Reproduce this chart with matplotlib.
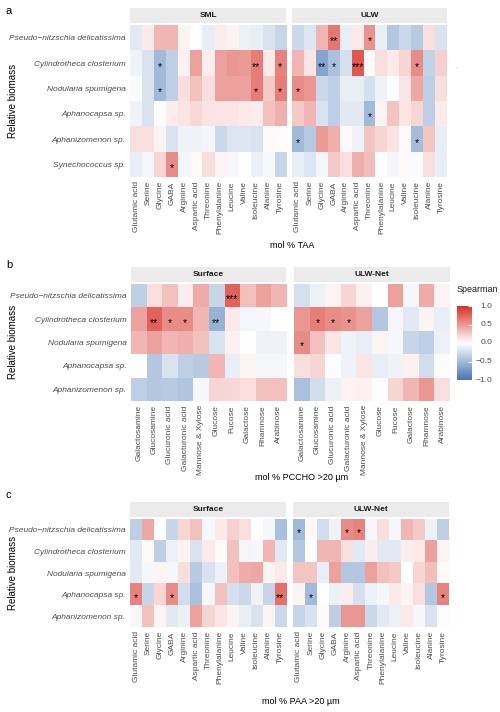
import numpy as np
import matplotlib.pyplot as plt
from matplotlib.colors import LinearSegmentedColormap

plt.rcParams['font.family'] = ['Liberation Sans', 'DejaVu Sans']

W, H = 500, 712

# categories
amino_acids = ['Glutamic acid', 'Serine', 'Glycine', 'GABA', 'Arginine', 'Aspartic acid',
               'Threonine', 'Phenylalanine', 'Leucine', 'Valine', 'Isoleucine', 'Alanine', 'Tyrosine']
sugars = ['Galactosamine', 'Glucosamine', 'Glucuronic acid', 'Galacturonic acid', 'Mannose & Xylose',
          'Glucose', 'Fucose', 'Galactose', 'Rhamnose', 'Arabinose']
taxa = ['Pseudo\u2212nitzschia delicatissima', 'Cylindrotheca closterium', 'Nodularia spumigena',
        'Aphanocapsa sp.', 'Aphanizomenon sp.', 'Synechococcus sp.']

# panel a - mol % TAA
taa_sml = np.array([
    [-0.15, 0.10, 0.35, 0.35, 0.05, 0.00, -0.12, 0.08, 0.05, -0.10, -0.12, -0.20, -0.30],
    [-0.08, -0.20, -0.50, -0.35, 0.07, 0.45, 0.08, 0.45, 0.50, 0.48, 0.62, 0.10, 0.60],
    [-0.03, -0.20, -0.50, -0.35, 0.15, 0.30, 0.15, 0.45, 0.45, 0.45, 0.62, 0.25, 0.62],
    [-0.08, -0.20, -0.02, 0.08, 0.12, 0.18, 0.13, 0.12, 0.12, 0.10, 0.08, 0.30, 0.38],
    [0.15, 0.15, 0.05, -0.20, -0.08, -0.08, -0.07, -0.28, -0.18, -0.18, -0.20, 0.02, 0.01],
    [-0.12, -0.06, 0.20, 0.55, -0.06, 0.03, 0.15, 0.05, -0.05, 0.00, -0.10, -0.04, -0.30],
])
taa_ulw = np.array([
    [-0.28, -0.18, 0.35, 0.65, -0.12, 0.10, 0.52, -0.12, -0.40, -0.28, -0.38, 0.15, -0.20],
    [0.35, 0.12, -0.65, -0.45, -0.22, 0.80, 0.02, 0.15, 0.10, 0.20, 0.55, -0.32, 0.22],
    [0.55, 0.50, -0.28, -0.35, -0.12, -0.12, -0.22, -0.08, -0.02, 0.12, 0.42, -0.35, 0.15],
    [0.25, 0.35, -0.20, -0.35, -0.15, -0.15, -0.50, 0.06, 0.28, 0.12, 0.20, -0.35, 0.10],
    [-0.50, -0.38, 0.48, 0.38, 0.03, -0.08, 0.28, 0.20, 0.12, 0.03, -0.48, 0.28, -0.12],
    [-0.12, -0.18, -0.06, 0.25, 0.15, 0.38, 0.32, 0.00, -0.06, 0.02, -0.03, 0.15, -0.12],
])
taa_sml_sig = [(1, 2, '*'), (1, 10, '**'), (1, 12, '*'), (2, 2, '*'), (2, 10, '*'), (2, 12, '*'), (5, 3, '*')]
taa_ulw_sig = [(0, 3, '**'), (0, 6, '*'), (1, 2, '**'), (1, 3, '*'), (1, 5, '***'), (1, 10, '*'),
               (2, 0, '*'), (3, 6, '*'), (4, 0, '*'), (4, 10, '*')]

# panel b - mol % PCCHO >20 um
pccho_surf = np.array([
    [-0.35, 0.15, 0.30, 0.08, 0.40, -0.30, 0.75, 0.30, 0.45, 0.35],
    [0.45, 0.75, 0.55, 0.55, 0.35, -0.55, 0.10, -0.07, -0.05, 0.00],
    [0.35, 0.45, 0.35, 0.38, 0.30, -0.20, 0.07, 0.00, -0.08, -0.08],
    [0.00, -0.40, -0.20, -0.35, -0.38, 0.35, -0.12, 0.05, -0.05, -0.05],
    [-0.35, -0.40, -0.38, -0.42, -0.05, 0.20, 0.18, 0.15, 0.30, 0.30],
])
pccho_net = np.array([
    [-0.22, -0.10, 0.05, 0.20, 0.07, 0.00, 0.45, -0.05, 0.40, 0.05],
    [0.50, 0.62, 0.55, 0.52, 0.45, -0.40, -0.05, -0.15, 0.05, -0.12],
    [0.55, 0.30, 0.12, -0.08, -0.12, 0.05, -0.05, -0.30, -0.35, -0.10],
    [0.15, 0.20, -0.02, -0.08, 0.12, -0.12, -0.08, 0.07, -0.25, -0.02],
    [-0.45, -0.25, -0.10, 0.06, 0.07, -0.02, 0.20, 0.35, 0.50, 0.15],
])
pccho_surf_sig = [(0, 6, '***'), (1, 1, '**'), (1, 2, '*'), (1, 3, '*'), (1, 5, '**')]
pccho_net_sig = [(1, 1, '*'), (1, 2, '*'), (1, 3, '*'), (2, 0, '*')]

# panel c - mol % PAA >20 um
paa_surf = np.array([
    [-0.35, 0.42, 0.00, -0.30, 0.20, 0.30, -0.05, 0.10, 0.22, 0.15, 0.00, -0.05, -0.45],
    [-0.15, 0.02, -0.35, -0.10, 0.05, -0.20, 0.10, 0.02, 0.30, -0.07, -0.05, 0.35, -0.15],
    [-0.15, -0.05, 0.05, -0.05, 0.15, -0.38, -0.20, -0.10, 0.30, 0.40, 0.42, 0.05, 0.10],
    [0.60, -0.30, 0.20, 0.55, -0.25, -0.45, -0.05, 0.30, -0.22, -0.28, -0.08, -0.30, 0.68],
    [-0.05, 0.30, 0.05, -0.15, -0.10, 0.45, 0.20, 0.12, 0.05, -0.12, -0.20, 0.05, -0.28],
])
paa_net = np.array([
    [-0.50, 0.03, -0.25, -0.08, 0.55, 0.60, -0.05, 0.15, -0.05, 0.35, 0.25, -0.08, -0.35],
    [-0.40, 0.00, 0.35, 0.35, 0.15, -0.15, 0.08, -0.15, -0.15, 0.08, 0.10, 0.45, 0.05],
    [0.28, 0.28, -0.12, 0.45, -0.40, -0.40, 0.45, 0.30, 0.25, 0.00, 0.20, 0.32, 0.02],
    [0.05, -0.50, 0.00, -0.10, 0.08, -0.22, -0.10, -0.05, 0.10, 0.05, 0.15, -0.40, 0.60],
    [-0.30, -0.20, 0.02, -0.35, 0.50, 0.50, -0.28, -0.15, -0.10, 0.10, -0.05, -0.20, -0.02],
])
paa_surf_sig = [(3, 0, '*'), (3, 3, '*'), (3, 12, '**')]
paa_net_sig = [(0, 0, '*'), (0, 4, '*'), (0, 5, '*'), (3, 1, '*'), (3, 12, '*')]

cmap = LinearSegmentedColormap.from_list('spearman', ['#4575B4', '#FFFFFF', '#D73027'])
grey = '#4D4D4D'

fig = plt.figure(figsize=(W / 100, H / 100), dpi=100)


def box(x0, y0, x1, y1):
    # pixel box (top-left origin) -> figure fraction
    return [x0 / W, 1 - y1 / H, (x1 - x0) / W, (y1 - y0) / H]


def heat(x0, x1, y0, y1, vals, sig, title, cols, rows=None):
    ax = fig.add_axes(box(x0, y0, x1, y1))
    im = ax.imshow(vals, cmap=cmap, vmin=-1, vmax=1, aspect='auto', interpolation='nearest')
    for r, c, s in sig:
        ax.text(c, r + 0.15, s, ha='center', va='center', fontsize=7.5, color='black')
    ax.set_xticks(range(len(cols)))
    ax.set_xticklabels(cols, rotation=90, fontsize=6, color=grey)
    if rows is not None:
        ax.set_yticks(range(len(rows)))
        ax.set_yticklabels(rows, fontsize=6, color=grey, style='italic')
    else:
        ax.set_yticks([])
    ax.tick_params(length=0, pad=3)
    for sp in ax.spines.values():
        sp.set_visible(False)
    st = fig.add_axes(box(x0, y0 - 17, x1, y0 - 2))
    st.set_facecolor('#EBEBEB')
    st.set_xticks([])
    st.set_yticks([])
    for sp in st.spines.values():
        sp.set_visible(False)
    st.text(0.5, 0.5, title, ha='center', va='center', fontsize=6, fontweight='bold', color='#1A1A1A')
    return im


# panel a
heat(130, 286, 25, 177, taa_sml, taa_sml_sig, 'SML', amino_acids, taxa)
heat(292, 447, 25, 177, taa_ulw, taa_ulw_sig, 'ULW', amino_acids)
# panel b
im = heat(131, 286, 284, 401, pccho_surf, pccho_surf_sig, 'Surface', sugars, taxa[:5])
heat(294, 450, 284, 401, pccho_net, pccho_net_sig, 'ULW-Net', sugars)
# panel c
heat(130, 286, 519, 627, paa_surf, paa_surf_sig, 'Surface', amino_acids, taxa[:5])
heat(293, 449, 519, 627, paa_net, paa_net_sig, 'ULW-Net', amino_acids)

# legend
cax = fig.add_axes(box(457, 306, 472, 380))
cb = fig.colorbar(im, cax=cax, ticks=[-1, -0.5, 0, 0.5, 1])
cb.outline.set_visible(False)
cax.tick_params(length=3, color='white', direction='in', labelright=False)
for v in [-1, -0.5, 0, 0.5, 1]:
    cax.text(2.35, v, f'{v:.1f}'.replace('-', '\u2212'), transform=cax.get_yaxis_transform(),
             ha='right', va='center', fontsize=6, color=grey)
fig.text(457 / W, 1 - 289 / H, 'Spearman', ha='left', va='center', fontsize=6.5, color='#1A1A1A')

# axis titles and panel letters
for yc in [101, 342, 573]:
    fig.text(13 / W, 1 - yc / H, 'Relative biomass', rotation=90, ha='center', va='center', fontsize=7)
fig.text(292 / W, 1 - 245 / H, 'mol % TAA', ha='center', va='center', fontsize=6.5)
fig.text(302 / W, 1 - 478 / H, 'mol % PCCHO >20 \u00b5m', ha='center', va='center', fontsize=6.5)
fig.text(301 / W, 1 - 702 / H, 'mol % PAA >20 \u00b5m', ha='center', va='center', fontsize=6.5)
for lab, yc in [('a', 11), ('b', 265), ('c', 495)]:
    fig.text(6 / W, 1 - yc / H, lab, ha='left', va='center', fontsize=8)
fig.text(456 / W, 1 - 67 / H, '.', ha='center', va='center', fontsize=5, color='#999999')

fig.savefig('out.png', dpi=100)
